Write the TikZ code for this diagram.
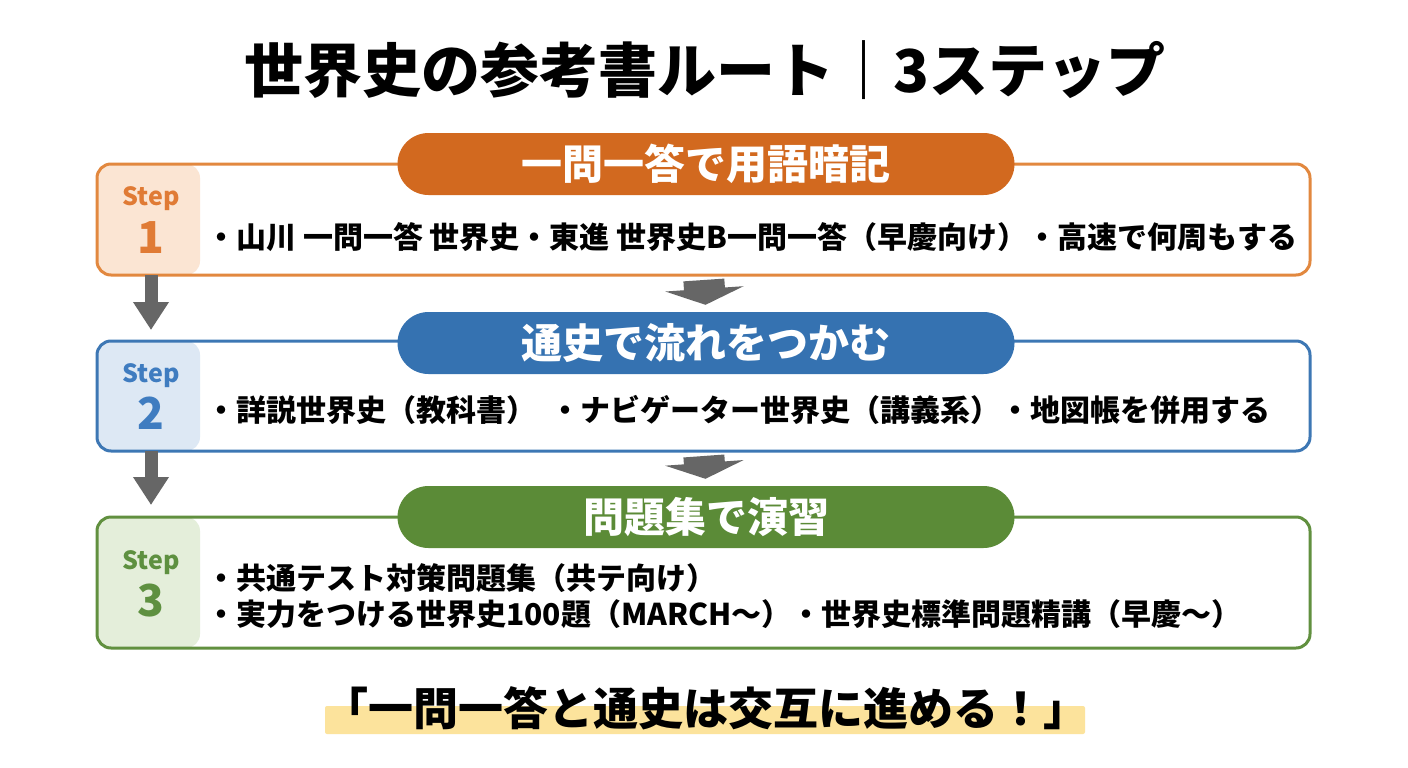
\documentclass[tikz,border=0pt]{standalone}
\usepackage{fontspec}
\setmainfont{Noto Sans CJK JP}
\usetikzlibrary{positioning,arrows.meta}

\definecolor{pillOrange}{HTML}{D2691F}
\definecolor{lineOrange}{HTML}{E2883F}
\definecolor{fillOrange}{HTML}{FBE5D3}
\definecolor{textOrange}{HTML}{E07B35}
\definecolor{pillBlue}{HTML}{3572B1}
\definecolor{lineBlue}{HTML}{3D77B4}
\definecolor{fillBlue}{HTML}{DDE8F4}
\definecolor{textBlue}{HTML}{3F7CC0}
\definecolor{pillGreen}{HTML}{5B8B37}
\definecolor{lineGreen}{HTML}{61903F}
\definecolor{fillGreen}{HTML}{E4EEDA}
\definecolor{textGreen}{HTML}{5E9040}
\definecolor{arrowGray}{HTML}{666666}
\definecolor{markYellow}{HTML}{FCE39C}

\begin{document}
\begin{tikzpicture}[x=1pt,y=-1pt,
    stepbox/.style 2 args={draw=#1,fill=white,line width=3pt,rounded corners=14pt,
      minimum width=1213pt,inner sep=0pt,outer sep=0pt,
      path picture={\fill[#2] (path picture bounding box.north west)
        rectangle ([xshift=103pt]path picture bounding box.south west);}},
    pill/.style={fill=#1,text=white,rounded corners=31pt,minimum width=617pt,
      minimum height=62pt,font=\fontsize{41}{41}\selectfont\bfseries},
    steptag/.style={text=#1,font=\fontsize{25}{25}\selectfont\bfseries},
    stepnum/.style={text=#1,font=\fontsize{44}{44}\selectfont\bfseries},
    item/.style={anchor=west,inner sep=0pt,font=\fontsize{30}{30}\selectfont\bfseries},
    flow/.style={draw=arrowGray,line width=13pt,-{Triangle[width=34pt,length=28pt]}},
    down/.style={draw=arrowGray,line width=41pt,-{Triangle[width=78pt,length=16pt]}}]
  \useasboundingbox[fill=white] (0,0) rectangle (1408,768);

  \node[font=\fontsize{59}{59}\selectfont\bfseries] (title) at (705,70)
    {世界史の参考書ルート｜3ステップ};

  % step 1
  \node[stepbox={lineOrange}{fillOrange},minimum height=111pt] (box1) at (703.5,219.5) {};
  \node[pill=pillOrange] (h1) at (706,164) {一問一答で用語暗記};
  \node[steptag=textOrange] (s1) at (151,199) {Step};
  \node[stepnum=textOrange] (n1) at (151,238) {1};
  \node[item] (t1) at (206,237)
    {・山川 一問一答 世界史・東進 世界史B一問一答（早慶向け）・高速で何周もする};

  % step 2
  \node[stepbox={lineBlue}{fillBlue},minimum height=110pt] (box2) at (703.5,396) {};
  \node[pill=pillBlue] (h2) at (706,343) {通史で流れをつかむ};
  \node[steptag=textBlue] (s2) at (151,376) {Step};
  \node[stepnum=textBlue] (n2) at (151,413) {2};
  \node[item] (t2) at (206,410)
    {・詳説世界史（教科書）\hspace{14pt}・ナビゲーター世界史（講義系）・地図帳を併用する};

  % step 3
  \node[stepbox={lineGreen}{fillGreen},minimum height=131pt] (box3) at (703.5,582.5) {};
  \node[pill=pillGreen] (h3) at (706,517) {問題集で演習};
  \node[steptag=textGreen] (s3) at (151,563) {Step};
  \node[stepnum=textGreen] (n3) at (151,601) {3};
  \node[item] (t3) at (206,578) {・共通テスト対策問題集（共テ向け）};
  \node[item] (t4) at (206,614)
    {・実力をつける世界史100題（MARCH～）・世界史標準問題精講（早慶～）};

  % arrows
  \draw[flow,shorten >=11pt] (s1 |- box1.south) -- (s1 |- box2.north);
  \draw[flow,shorten >=12pt] (s2 |- box2.south) -- (s2 |- box3.north);
  \draw[down,shorten <=5pt,shorten >=7pt] (box1.south) -- (h2.north);
  \draw[down,shorten <=5pt,shorten >=7pt] (box2.south) -- (h3.north);

  % note
  \fill[markYellow,rounded corners=2pt] (325,706) rectangle (1085,734);
  \node[font=\fontsize{45}{45}\selectfont\bfseries] (note) at (706,708)
    {「一問一答と通史は交互に進める！」};
\end{tikzpicture}
\end{document}
